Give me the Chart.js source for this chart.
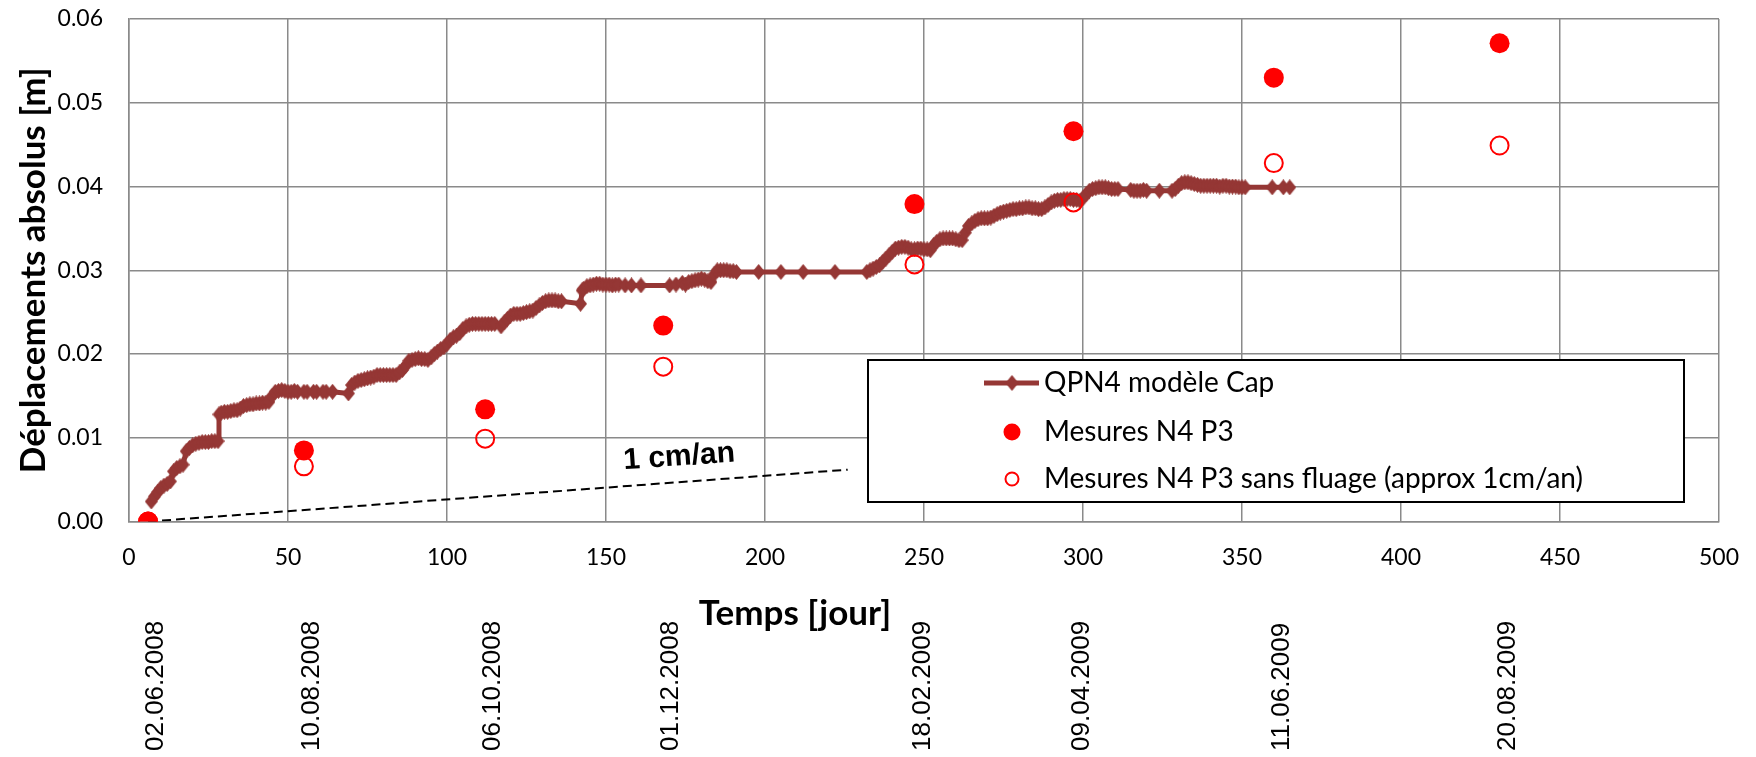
<!DOCTYPE html>
<html>
<head>
<meta charset="utf-8">
<script src="https://cdn.jsdelivr.net/npm/chart.js@4/dist/chart.umd.min.js"></script>
<style>
  html, body { margin: 0; padding: 0; background: #fff; }
  #wrap { width: 1756px; height: 757px; }
</style>
</head>
<body>
<div id="wrap"><canvas id="dispChart" width="1756" height="757"></canvas></div>
<script>
// Campagnes de mesure : jour, date, déplacement mesuré [m]
const measureDays = [6, 55, 112, 168, 247, 297, 360, 431];
const measureDates = ['02.06.2008', '10.08.2008', '06.10.2008', '01.12.2008',
                      '18.02.2009', '09.04.2009', '11.06.2009', '20.08.2009'];
const measured = [0, 0.0085, 0.0134, 0.0234, 0.0379, 0.0466, 0.0530, 0.0571];
const measuredNoCreep = [0, 0.0066, 0.0099, 0.0185, 0.0307, 0.0381, 0.0428, 0.0449];

// droite de fluage 1 cm/an
const creepDays = [6, 226];
const creepDisp = [0, 0.0062];
const creepLabel = '1 cm/an';

// modèle Cap : [jour, déplacement]
const modelPoints = [
    [7, 0.0024], [8, 0.0030], [9, 0.0035], [10, 0.0040], [11, 0.0043], [12, 0.0045],
    [13, 0.0048], [14, 0.0060], [15, 0.0064], [16, 0.0066], [17, 0.0068], [18, 0.0084],
    [19, 0.0088], [20, 0.0091], [21, 0.0093], [22, 0.0094], [23, 0.0095], [24, 0.0095],
    [25, 0.0095], [26, 0.0096], [27, 0.0096], [28, 0.0096], [28.3, 0.0128], [29, 0.0130],
    [30, 0.0131], [31, 0.0131], [32, 0.0132], [33, 0.0133], [34, 0.0133], [35, 0.0135],
    [36, 0.0138], [37, 0.0139], [38, 0.0140], [39, 0.0140], [40, 0.0141], [41, 0.0141],
    [42, 0.0142], [43, 0.0142], [44, 0.0143], [45, 0.0150], [46, 0.0155], [47, 0.0156],
    [48, 0.0157], [49, 0.0156], [50, 0.0155], [51, 0.0155], [52, 0.0156], [53, 0.0155],
    [55, 0.0155], [56, 0.0155], [58, 0.0155], [59, 0.0155], [61, 0.0155], [62, 0.0155],
    [64, 0.0155], [69, 0.0153], [70, 0.0163], [71, 0.0166], [72, 0.0168], [73, 0.0169],
    [74, 0.0170], [75, 0.0171], [76, 0.0172], [77, 0.0173], [78, 0.0175], [79, 0.0175],
    [80, 0.0175], [81, 0.0175], [82, 0.0175], [83, 0.0175], [84, 0.0175], [85, 0.0178],
    [86, 0.0181], [87, 0.0186], [88, 0.0192], [89, 0.0193], [90, 0.0194], [91, 0.0195],
    [92, 0.0194], [93, 0.0194], [94, 0.0193], [95, 0.0196], [96, 0.0200], [97, 0.0203],
    [98, 0.0206], [99, 0.0208], [100, 0.0212], [101, 0.0217], [102, 0.0220], [103, 0.0222],
    [104, 0.0225], [105, 0.0230], [106, 0.0233], [107, 0.0235], [108, 0.0236], [109, 0.0236],
    [110, 0.0236], [111, 0.0236], [112, 0.0236], [113, 0.0236], [114, 0.0236], [115, 0.0236],
    [117, 0.0233], [118, 0.0238], [119, 0.0242], [120, 0.0246], [121, 0.0248], [122, 0.0248],
    [123, 0.0248], [124, 0.0249], [125, 0.0250], [126, 0.0251], [127, 0.0252], [128, 0.0255],
    [129, 0.0258], [130, 0.0261], [131, 0.0263], [132, 0.0264], [133, 0.0264], [134, 0.0264],
    [135, 0.0263], [136, 0.0263], [142, 0.0260], [142.5, 0.0276], [143, 0.0278], [144, 0.0281],
    [145, 0.0282], [146, 0.0283], [147, 0.0284], [148, 0.0284], [149, 0.0283], [150, 0.0283],
    [151, 0.0283], [152, 0.0282], [153, 0.0283], [154, 0.0283], [156, 0.0282], [158, 0.0282],
    [161, 0.0282], [170, 0.0282], [172, 0.0283], [174, 0.0285], [175, 0.0283], [176, 0.0286],
    [177, 0.0287], [178, 0.0288], [179, 0.0289], [180, 0.0290], [181, 0.0289], [182, 0.0287],
    [183, 0.0286], [184, 0.0295], [185, 0.0300], [186, 0.0300], [187, 0.0300], [188, 0.0300],
    [189, 0.0299], [190, 0.0299], [191, 0.0298], [198, 0.0298], [205, 0.0298], [212, 0.0298],
    [222, 0.0298], [232, 0.0298], [233, 0.0300], [234, 0.0302], [235, 0.0304], [236, 0.0306],
    [237, 0.0310], [238, 0.0314], [239, 0.0318], [240, 0.0322], [241, 0.0326], [242, 0.0327],
    [243, 0.0328], [244, 0.0328], [245, 0.0327], [246, 0.0325], [247, 0.0325], [248, 0.0326],
    [249, 0.0326], [250, 0.0325], [251, 0.0325], [252, 0.0324], [253, 0.0330], [254, 0.0334],
    [255, 0.0337], [256, 0.0338], [257, 0.0338], [258, 0.0338], [259, 0.0338], [260, 0.0337],
    [261, 0.0336], [262, 0.0336], [263, 0.0345], [264, 0.0353], [265, 0.0356], [266, 0.0359],
    [267, 0.0361], [268, 0.0362], [269, 0.0362], [270, 0.0362], [271, 0.0363], [272, 0.0365],
    [273, 0.0367], [274, 0.0369], [275, 0.0370], [276, 0.0371], [277, 0.0372], [278, 0.0373],
    [279, 0.0373], [280, 0.0374], [281, 0.0374], [282, 0.0375], [283, 0.0375], [284, 0.0374],
    [285, 0.0374], [286, 0.0373], [287, 0.0373], [288, 0.0375], [289, 0.0378], [290, 0.0381],
    [291, 0.0383], [292, 0.0384], [293, 0.0384], [294, 0.0385], [295, 0.0385], [296, 0.0385],
    [297, 0.0384], [298, 0.0384], [299, 0.0383], [300, 0.0386], [301, 0.0391], [302, 0.0395],
    [303, 0.0397], [304, 0.0398], [305, 0.0399], [306, 0.0399], [307, 0.0399], [308, 0.0398],
    [309, 0.0397], [310, 0.0397], [311, 0.0397], [315, 0.0396], [316, 0.0395], [317, 0.0395],
    [318, 0.0395], [319, 0.0396], [320, 0.0395], [324, 0.0395], [328, 0.0395], [329, 0.0397],
    [330, 0.0401], [331, 0.0404], [332, 0.0405], [333, 0.0405], [334, 0.0404], [335, 0.0403],
    [336, 0.0402], [337, 0.0401], [338, 0.0401], [339, 0.0401], [340, 0.0401], [341, 0.0401],
    [342, 0.0401], [343, 0.0400], [344, 0.0401], [345, 0.0401], [346, 0.0400], [347, 0.0400],
    [348, 0.0400], [349, 0.0399], [350, 0.0399], [351, 0.0399], [359.5, 0.0399], [363, 0.0399],
    [365, 0.0399]
];

const MODEL_COLOR = '#953735';
const MEAS_COLOR = '#ff0000';
const GRID_COLOR = '#8a8a8a';
const FONT = 'Lato';

// losange un peu plus haut que large, comme les marqueurs Excel
function makeDiamond(w, h, color) {
    const c = document.createElement('canvas');
    c.width = w;
    c.height = h;
    const g = c.getContext('2d');
    g.fillStyle = color;
    g.beginPath();
    g.moveTo(w / 2, 0);
    g.lineTo(w, h / 2);
    g.lineTo(w / 2, h);
    g.lineTo(0, h / 2);
    g.closePath();
    g.fill();
    return c;
}
const diamond = makeDiamond(13, 16, MODEL_COLOR);

// légende encadrée dans la zone du graphique
const boxedLegend = {
    id: 'boxedLegend',
    afterDatasetsDraw(chart) {
        const ctx = chart.ctx;
        const ds = chart.data.datasets;
        const x = 868, y = 360, w = 816, h = 142;
        ctx.save();
        ctx.fillStyle = '#fff';
        ctx.fillRect(x, y, w, h);
        ctx.lineWidth = 2;
        ctx.strokeStyle = '#000';
        ctx.strokeRect(x, y, w, h);

        const symX = 1012, textX = 1044;
        const rows = [383, 432, 479];

        // ligne + losange
        ctx.strokeStyle = MODEL_COLOR;
        ctx.lineWidth = 5;
        ctx.beginPath();
        ctx.moveTo(984, rows[0]);
        ctx.lineTo(1039, rows[0]);
        ctx.stroke();
        ctx.drawImage(diamond, symX - diamond.width / 2, rows[0] - diamond.height / 2);

        // cercle plein
        ctx.fillStyle = MEAS_COLOR;
        ctx.beginPath();
        ctx.arc(symX, rows[1], 8.5, 0, Math.PI * 2);
        ctx.fill();

        // cercle vide
        ctx.strokeStyle = MEAS_COLOR;
        ctx.lineWidth = 2;
        ctx.beginPath();
        ctx.arc(symX, rows[2], 6.5, 0, Math.PI * 2);
        ctx.stroke();

        ctx.fillStyle = '#000';
        ctx.font = '28px ' + FONT;
        ctx.textAlign = 'left';
        ctx.textBaseline = 'middle';
        [0, 1, 2].forEach(i => ctx.fillText(ds[i].label, textX, rows[i]));
        ctx.restore();
    }
};

// dates sous l'axe, texte 1 cm/an et titre de l'axe des x
const annotations = {
    id: 'annotations',
    afterDraw(chart) {
        const ctx = chart.ctx;
        const xs = chart.scales.x;
        const ys = chart.scales.y;
        ctx.save();
        ctx.fillStyle = '#000';

        ctx.font = '26px "Liberation Sans", Arial';
        ctx.textAlign = 'left';
        ctx.textBaseline = 'middle';
        measureDays.forEach((d, i) => {
            ctx.save();
            ctx.translate(xs.getPixelForValue(d) + 8, 751);
            ctx.rotate(-Math.PI / 2);
            ctx.fillText(measureDates[i], 0, 0);
            ctx.restore();
        });

        ctx.save();
        ctx.font = 'bold 30px "Liberation Sans", Arial';
        ctx.textAlign = 'center';
        ctx.translate(xs.getPixelForValue(173), ys.getPixelForValue(0.0077));
        ctx.rotate(-4 * Math.PI / 180);
        ctx.fillText(creepLabel, 0, 0);
        ctx.restore();

        ctx.font = 'bold 35px ' + FONT;
        ctx.textAlign = 'center';
        ctx.fillText('Temps [jour]', 795, 614);
        ctx.restore();
    }
};

const toXY = (xs, ys) => xs.map((x, i) => ({ x, y: ys[i] }));

new Chart(document.getElementById('dispChart'), {
    type: 'scatter',
    data: {
        datasets: [
            {
                label: 'QPN4 modèle Cap',
                data: modelPoints.map(p => ({ x: p[0], y: p[1] })),
                showLine: true,
                borderColor: MODEL_COLOR,
                borderWidth: 5,
                backgroundColor: MODEL_COLOR,
                pointStyle: diamond,
                pointRadius: 7,
                order: 3
            },
            {
                label: 'Mesures N4 P3',
                data: toXY(measureDays, measured),
                backgroundColor: MEAS_COLOR,
                borderColor: MEAS_COLOR,
                pointRadius: 10,
                pointBorderWidth: 0,
                order: 0
            },
            {
                label: 'Mesures N4 P3 sans fluage (approx 1cm/an)',
                data: toXY(measureDays, measuredNoCreep),
                backgroundColor: 'rgba(0,0,0,0)',
                borderColor: MEAS_COLOR,
                pointRadius: 9,
                pointBorderWidth: 2,
                order: 1
            },
            {
                label: creepLabel,
                data: toXY(creepDays, creepDisp),
                showLine: true,
                borderColor: '#000',
                borderWidth: 2,
                borderDash: [9, 5],
                pointRadius: 0,
                order: 2
            }
        ]
    },
    options: {
        responsive: false,
        animation: false,
        devicePixelRatio: 1,
        layout: { padding: 0 },
        plugins: {
            legend: { display: false },
            tooltip: { enabled: false }
        },
        scales: {
            x: {
                type: 'linear',
                min: 0,
                max: 500,
                ticks: {
                    stepSize: 50,
                    padding: 22,
                    color: '#000',
                    font: { family: FONT, size: 23 }
                },
                grid: { color: GRID_COLOR, lineWidth: 1.5, drawTicks: false },
                border: { color: GRID_COLOR, width: 1.5 },
                afterFit: s => {
                    s.height = 235.4;
                    s.paddingRight = 37;
                }
            },
            y: {
                min: 0,
                max: 0.06,
                ticks: {
                    stepSize: 0.01,
                    padding: 26,
                    color: '#000',
                    font: { family: FONT, size: 23 },
                    callback: v => v.toFixed(2)
                },
                grid: { color: GRID_COLOR, lineWidth: 1.5, drawTicks: false },
                border: { color: GRID_COLOR, width: 1.5 },
                title: {
                    display: true,
                    text: 'Déplacements absolus [m]',
                    color: '#000',
                    font: { family: FONT, size: 35, weight: 'bold' },
                    padding: { top: 13, bottom: 0 }
                },
                afterFit: s => {
                    s.width = 129;
                    s.paddingTop = 19;
                    s.paddingBottom = 0;
                }
            }
        }
    },
    plugins: [boxedLegend, annotations]
});
</script>
</body>
</html>
